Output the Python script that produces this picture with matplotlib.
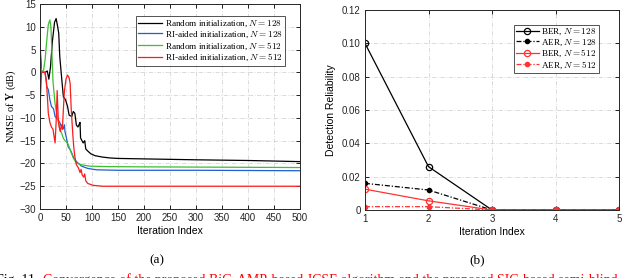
import numpy as np
import matplotlib
matplotlib.use("Agg")
import matplotlib.pyplot as plt

plt.rcParams['mathtext.fontset'] = 'cm'

# (a) NMSE of Y vs iteration index
rand128_x = [0, 1, 3, 10, 14, 17, 20, 24, 28, 31, 34, 36, 38, 42, 45, 49, 53, 56, 61, 64, 67, 70, 73, 75,
             77, 78, 83, 86, 88, 92, 98, 106, 120, 135, 150, 200, 300, 400, 500]
rand128_y = [8.5, 4, 0, 0, 0.3, -1.5, 1, 7, 11, 11.8, 10, 8.6, 3.5, -1.7, -5.4, -6, -7.5, -9.4, -9.7, -8.6,
             -9, -11.6, -12, -11.5, -11, -14.4, -15.5, -15, -16.8, -17.3, -17.9, -18.3, -18.6, -18.8,
             -18.9, -19.0, -19.2, -19.35, -19.6]

ri128_x = [0, 10, 13, 16, 19, 22, 26, 29, 32, 35, 38, 41, 44, 45, 47, 48, 51, 54, 58, 61, 65, 70, 80,
           92, 109, 150, 300, 500]
ri128_y = [0, 0, -3.1, -3.8, -6, -7.5, -8, -9.7, -10, -10.5, -11, -11.8, -12.5, -12.2, -11.5, -13, -14.5,
           -16.3, -17, -17.7, -18.8, -19.6, -20.6, -21.1, -21.4, -21.5, -21.5, -21.6]

rand512_x = [0, 2, 4, 7, 10, 13, 16, 19, 21, 23, 25, 29, 33, 38, 42, 45, 48, 51, 54, 58, 64, 70, 80, 96,
             135, 200, 300, 400, 500]
rand512_y = [3.8, 1, 0, 0.5, 3, 7, 10.5, 11.5, 10, 4, -2, -7, -9.5, -12.5, -13.5, -14.5, -15, -15.3,
             -15.8, -17, -18.8, -19.9, -20.3, -20.6, -20.7, -20.75, -20.8, -20.85, -20.9]

ri512_x = [0, 1, 3, 9, 12, 14, 16, 19, 22, 25, 27, 29, 31, 33, 35, 37, 39, 41, 43, 45, 47, 50, 53, 56,
           58, 60, 63, 65, 67, 70, 74, 77, 79, 81, 84, 86, 88, 92, 102, 120, 500]
ri512_y = [-9.5, -5, 0, 0, -1.5, -5, -9, -11, -12, -12.5, -14, -15.5, -11, -4, -10, -12, -13, -11.5,
           -12.5, -8, -4, -1.5, -0.6, -1.2, -2.5, -8, -13.5, -16.5, -18.5, -20.3, -21, -22, -21.3, -22.5,
           -23, -22.3, -23.8, -24.4, -24.8, -25, -25]

# (b) detection reliability
iters = [1, 2, 3, 4, 5]
ber128 = [0.100, 0.026, 0, 0, 0]
aer128 = [0.016, 0.012, 0, 0, 0]
ber512 = [0.0125, 0.0055, 0, 0, 0]
aer512 = [0.002, 0.002, 0, 0, 0]

W, H = 640, 278
fig = plt.figure(figsize=(W / 100, H / 100), dpi=100)

serif = 'Liberation Serif'
grid_kw = dict(color='#d4d4d4', linestyle=(0, (5, 2, 1, 2)), linewidth=0.6)
dashdot = (0, (4, 1.5, 1, 1.5))


def style_axes(ax):
    ax.tick_params(direction='in', length=3, width=0.6, top=True, right=True, pad=3)
    for lab in ax.get_xticklabels() + ax.get_yticklabels():
        lab.set_fontfamily('Liberation Sans')
        lab.set_fontsize(7)
        lab.set_color('#262626')
    for s in ax.spines.values():
        s.set_linewidth(0.7)
        s.set_color('#262626')
    ax.grid(True, **grid_kw)
    ax.set_axisbelow(True)


# ---- left panel
ax1 = fig.add_axes([40 / W, 1 - 209 / H, 260 / W, 205 / H])
ax1.plot(rand128_x, rand128_y, color='black', lw=0.9, label='Random initialization, $N = 128$')
ax1.plot(ri128_x, ri128_y, color='#1f5fcf', lw=0.9, label='RI-aided initialization, $N = 128$')
ax1.plot(rand512_x, rand512_y, color='#3cbf30', lw=0.9, label='Random initialization, $N = 512$')
ax1.plot(ri512_x, ri512_y, color='#ff1a1a', lw=0.9, label='RI-aided initialization, $N = 512$')
ax1.set_xlim(0, 500)
ax1.set_ylim(-30, 15)
ax1.set_xticks(np.arange(0, 501, 50))
ax1.set_yticks(np.arange(-30, 16, 5))
style_axes(ax1)
ax1.set_xlabel('Iteration Index', fontfamily='Liberation Sans', fontsize=7.5, labelpad=2)
ax1.set_ylabel(r'NMSE of $\mathbf{Y}$ (dB)', fontfamily=serif, fontsize=7.5, labelpad=1)
leg1 = ax1.legend(loc='upper right', bbox_to_anchor=(0.943, 0.94), prop=dict(family=serif, size=6.6),
                  frameon=True, fancybox=False, edgecolor='#262626', handlelength=2.6,
                  handletextpad=0.35, borderpad=0.25, labelspacing=0.05, borderaxespad=0)
leg1.get_frame().set_linewidth(0.7)

# ---- right panel
ax2 = fig.add_axes([365 / W, 1 - 210 / H, 254 / W, 200 / H])
ax2.plot(iters, ber128, color='black', lw=0.9, marker='o', mfc='none', ms=4.5, mew=0.9,
         label='BER, $N = 128$')
ax2.plot(iters, aer128, color='black', lw=0.9, ls=dashdot, marker='o', ms=3, label='AER, $N = 128$')
ax2.plot(iters, ber512, color='#ff3333', lw=0.9, marker='o', mfc='none', ms=4.5, mew=0.9,
         label='BER, $N = 512$')
ax2.plot(iters, aer512, color='#ff3333', lw=0.9, ls=dashdot, marker='o', ms=3, label='AER, $N = 512$')
ax2.set_xlim(1, 5)
ax2.set_ylim(0, 0.12)
ax2.set_xticks(iters)
ax2.set_yticks([0, 0.02, 0.04, 0.06, 0.08, 0.10, 0.12])
ax2.set_yticklabels(['0', '0.02', '0.04', '0.06', '0.08', '0.10', '0.12'])
style_axes(ax2)
ax2.set_xlabel('Iteration Index', fontfamily='Liberation Sans', fontsize=7.5, labelpad=2)
ax2.set_ylabel('Detection Reliability', fontfamily='Liberation Sans', fontsize=7.5, labelpad=4)
leg2 = ax2.legend(loc='upper right', bbox_to_anchor=(0.92, 0.925), prop=dict(family=serif, size=6.6),
                  frameon=True, fancybox=False, edgecolor='#262626', handlelength=2.5,
                  handletextpad=0.25, borderpad=0.2, labelspacing=0.02, borderaxespad=0)
leg2.get_frame().set_linewidth(0.7)

# sub-captions and the caption line cut by the bottom edge
fig.text(157 / W, 1 - 260 / H, '(a)', ha='center', va='center', fontfamily=serif, fontsize=9.5)
fig.text(477 / W, 1 - 260 / H, '(b)', ha='center', va='center', fontfamily=serif, fontsize=9.5)
fig.text(38 / W, 1 - 280.5 / H, 'Fig. 11.', ha='right', va='center', fontfamily=serif, fontsize=10)
fig.text(43 / W, 1 - 280.5 / H,
         'Convergence of the proposed BiG-AMP-based JCSE algorithm and the proposed SIC-based semi-blind',
         ha='left', va='center', fontfamily=serif, fontsize=10, color='#ff0000')

fig.savefig('out.png', dpi=100)
